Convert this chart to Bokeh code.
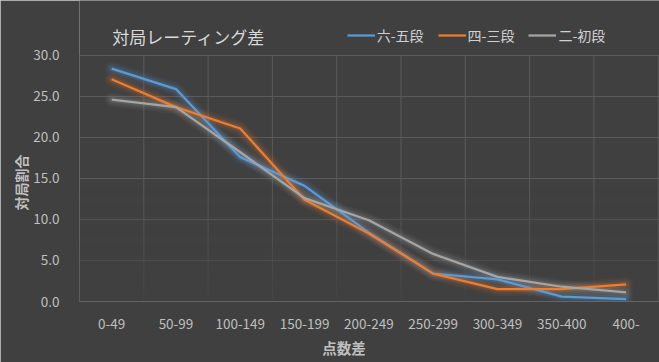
from bokeh.plotting import figure
from bokeh.models import Range1d, FixedTicker, Legend, LegendItem, Label, Title, NumeralTickFormatter
from bokeh.embed import file_html
from bokeh.resources import INLINE

# ---- data ----
categories = ["0-49", "50-99", "100-149", "150-199", "200-249",
              "250-299", "300-349", "350-400", "400-"]
dan_6_5 = [28.4, 25.9, 17.6, 14.1, 8.4, 3.4, 2.7, 0.6, 0.3]
dan_4_3 = [27.1, 23.7, 21.1, 12.4, 8.3, 3.4, 1.5, 1.5, 2.1]
dan_2_1 = [24.6, 23.7, 18.2, 12.6, 9.9, 5.8, 3.0, 1.8, 1.1]
series_names = ["六-五段", "四-三段", "二-初段"]
y_ticks = [0, 5, 10, 15, 20, 25, 30]

title_text = "対局レーティング差"
x_title = "点数差"
y_title = "対局割合"

colors = ["#5b9bd5", "#ed7d31", "#a5a5a5"]
bg = "#404040"
grid_col = "#5a5a5a"
text_col = "#bfbfbf"
font = "Noto Sans CJK JP"

n = len(categories)
xs = [i + 0.5 for i in range(n)]
y_max = max(y_ticks)

p = figure(width=659, height=362, output_backend="svg", toolbar_location=None,
           x_range=Range1d(0, 9.02), y_range=Range1d(0, 36.7),
           min_border_left=79, min_border_right=0, min_border_top=0, min_border_bottom=61)
p.background_fill_color = bg
p.border_fill_color = bg
p.outline_line_color = None
p.styles = {"outline": "1px solid #d0d0d0", "outline-offset": "-1px"}

# grids: horizontal via Bokeh grid, vertical category separators limited to the value range
p.ygrid.ticker = FixedTicker(ticks=y_ticks)
p.ygrid.grid_line_color = grid_col
p.xgrid.visible = False
bounds = list(range(n + 1))
p.segment(x0=bounds, y0=[0] * len(bounds), x1=bounds, y1=[y_max] * len(bounds),
          line_color=grid_col, line_width=1, level="underlay")

# axes
p.xaxis.ticker = FixedTicker(ticks=xs)
p.xaxis.major_label_overrides = {x: c for x, c in zip(xs, categories)}
p.yaxis.ticker = FixedTicker(ticks=y_ticks)
p.yaxis.formatter = NumeralTickFormatter(format="0.0")
for ax in (p.xaxis, p.yaxis):
    ax.axis_line_color = None
    ax.major_tick_line_color = None
    ax.minor_tick_line_color = None
    ax.major_label_text_color = text_col
    ax.major_label_text_font = font
    ax.major_label_text_font_size = "13.5px"
p.xaxis.major_label_standoff = 11
p.yaxis.major_label_standoff = 14

# fade of grid toward the bottom
steps = 12
top_val = y_ticks[2] * 1.4
for k in range(steps):
    y0 = top_val * k / steps
    y1 = top_val * (k + 1) / steps
    a = 0.85 * (1 - (k + 0.5) / steps)
    p.quad(left=0, right=n, bottom=y0, top=y1, fill_color=bg, fill_alpha=a, line_color=None)

# lines with glow
main = []
for vals, c in zip([dan_6_5, dan_4_3, dan_2_1], colors):
    for w, a in [(14, 0.06), (10, 0.09), (6, 0.14)]:
        p.line(xs, vals, line_color=c, line_width=w, line_alpha=a, line_join="round", line_cap="round")
for vals, c in zip([dan_6_5, dan_4_3, dan_2_1], colors):
    r = p.line(xs, vals, line_color=c, line_width=2.25, line_join="round")
    main.append(r)

legend = Legend(items=[LegendItem(label=nm, renderers=[r]) for nm, r in zip(series_names, main)],
                orientation="horizontal", location=(267.7, 256.3),
                label_text_font=font, label_text_font_size="14px", label_text_color="#d0d0d0",
                glyph_width=28, glyph_height=18, label_height=18, label_standoff=2,
                spacing=14, padding=0, margin=0,
                background_fill_alpha=0, border_line_alpha=0)
p.add_layout(legend, "center")

p.add_layout(Label(x=32.7, y=265.3, x_units="screen", y_units="screen", text=title_text,
                   text_font=font, text_font_size="17px", text_color="#d9d9d9",
                   text_baseline="middle", text_align="left"))

p.add_layout(Title(text=x_title, align="left", offset=242.7, standoff=6,
                   text_font=font, text_font_size="14.5px", text_color=text_col,
                   text_font_style="bold"), "below")
p.add_layout(Title(text=y_title, align="left", offset=91, standoff=0,
                   text_font=font, text_font_size="14px", text_color=text_col,
                   text_font_style="bold"), "left")

open("out.html", "w").write(file_html(p, INLINE))
